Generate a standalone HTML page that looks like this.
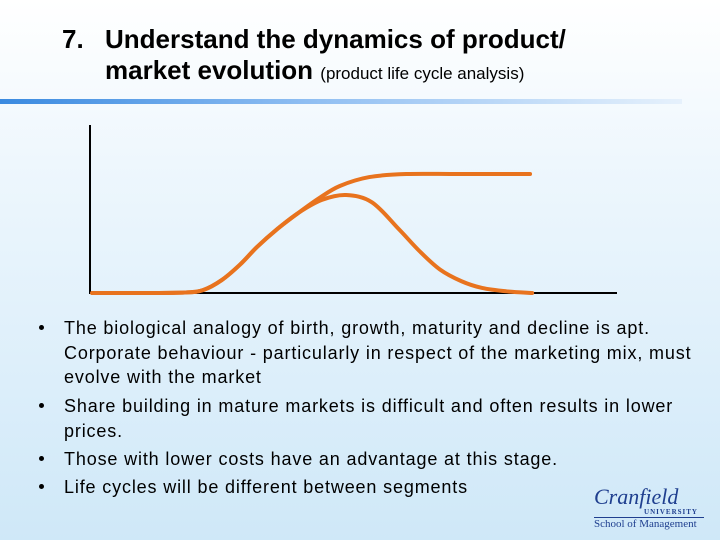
<!DOCTYPE html>
<html><head><meta charset="utf-8"><style>
body{margin:0;width:720px;height:540px;overflow:hidden;font-family:"Liberation Sans",Arial,sans-serif;background:linear-gradient(#ffffff 0%,#eef7fd 30%,#cfe8f8 100%);position:relative}
.t{position:absolute;font-weight:bold;font-size:26px;color:#000;white-space:nowrap}
.b{position:absolute;left:64px;font-size:18px;line-height:24.5px;color:#000;white-space:nowrap;letter-spacing:0.85px}
.dot{position:absolute;left:39px;width:5px;height:5px;border-radius:50%;background:#000}
</style></head><body>
<div class="t" style="left:62px;top:24px">7.</div>
<div class="t" style="left:105px;top:24px">Understand the dynamics of product/</div>
<div class="t" style="left:105px;top:55px">market evolution <span style="font-weight:normal;font-size:17px">(product life cycle analysis)</span></div>
<div style="position:absolute;left:0;top:99px;width:682px;height:5px;background:linear-gradient(90deg,#3a8ae0,#8fbef2 45%,#e6f1fc)"></div>
<svg id="chart" width="720" height="540" style="position:absolute;left:0;top:0"></svg>
<div class="dot" style="top:325px"></div>
<div class="b" style="top:316px">The biological analogy of birth, growth, maturity and decline is apt.<br>Corporate behaviour - particularly in respect of the marketing mix, must<br>evolve with the market</div>
<div class="dot" style="top:403px"></div>
<div class="b" style="top:394px">Share building in mature markets is difficult and often results in lower<br>prices.</div>
<div class="dot" style="top:456px"></div>
<div class="b" style="top:447px">Those with lower costs have an advantage at this stage.</div>
<div class="dot" style="top:484px"></div>
<div class="b" style="top:475px">Life cycles will be different between segments</div>
<div style="position:absolute;left:594px;top:486px;width:110px;color:#1f3f8f;font-family:'Liberation Serif',serif">
<div style="font-style:italic;font-size:22px;line-height:22px">Cranfield</div>
<div style="font-size:7px;text-align:right;padding-right:6px;letter-spacing:1px;font-weight:bold">UNIVERSITY</div>
<div style="border-top:1px solid #1f3f8f;font-size:11px;margin-top:1px">School of Management</div>
</div>
<script>
const timeX=[0.4,10,18,21.5,25,28.5,31.7,35.5,39.5,44,48.6,53.5,58.6,62.5,66.4,70.5,74.4,79,83.9];
const salesY=[0,0,0.3,1.8,7.7,17,27.4,38,47.6,55.4,58.3,54,38,25,14,7,3,1,0];
const marketX=[0.4,10,18,21.5,25,28.5,31.7,35.5,39.5,43.5,47.4,53,60,70,83.5];
const marketY=[0,0,0.3,1.8,7.7,17,27.4,38,47.6,56.5,63.7,69,70.8,70.8,70.8];
const svg=document.getElementById('chart');
const NS='http://www.w3.org/2000/svg';
const X0=90,X1=617,Y0=293,Y1=125;
const sx=v=>X0+v/100*(X1-X0), sy=v=>Y0-v/100*(Y0-Y1);
function line(x1,y1,x2,y2,name){const l=document.createElementNS(NS,'line');
l.setAttribute('x1',x1);l.setAttribute('y1',y1);l.setAttribute('x2',x2);l.setAttribute('y2',y2);
l.setAttribute('stroke','#000');l.setAttribute('stroke-width','2');


svg.appendChild(l);}
line(X0,Y1,X0,Y0+1,'y-axis');
line(X0,Y0,X1,Y0,'x-axis');
function curve(xs,ys,name){const p=xs.map((x,i)=>[sx(x),sy(ys[i])]);
let d='M'+p[0][0]+','+p[0][1];
for(let i=0;i<p.length-1;i++){const a=p[Math.max(0,i-1)],b=p[i],c=p[i+1],e=p[Math.min(p.length-1,i+2)];
d+=' C'+(b[0]+(c[0]-a[0])/6)+','+(b[1]+(c[1]-a[1])/6)+' '+(c[0]-(e[0]-b[0])/6)+','+(c[1]-(e[1]-b[1])/6)+' '+c[0]+','+c[1];}
const path=document.createElementNS(NS,'path');path.setAttribute('d',d);path.setAttribute('fill','none');
path.setAttribute('stroke','#e8731e');path.setAttribute('stroke-width','4');path.setAttribute('stroke-linecap','round');


svg.appendChild(path);}
curve(marketX,marketY,'market-curve');
curve(timeX,salesY,'sales-curve');
</script>
</body></html>
